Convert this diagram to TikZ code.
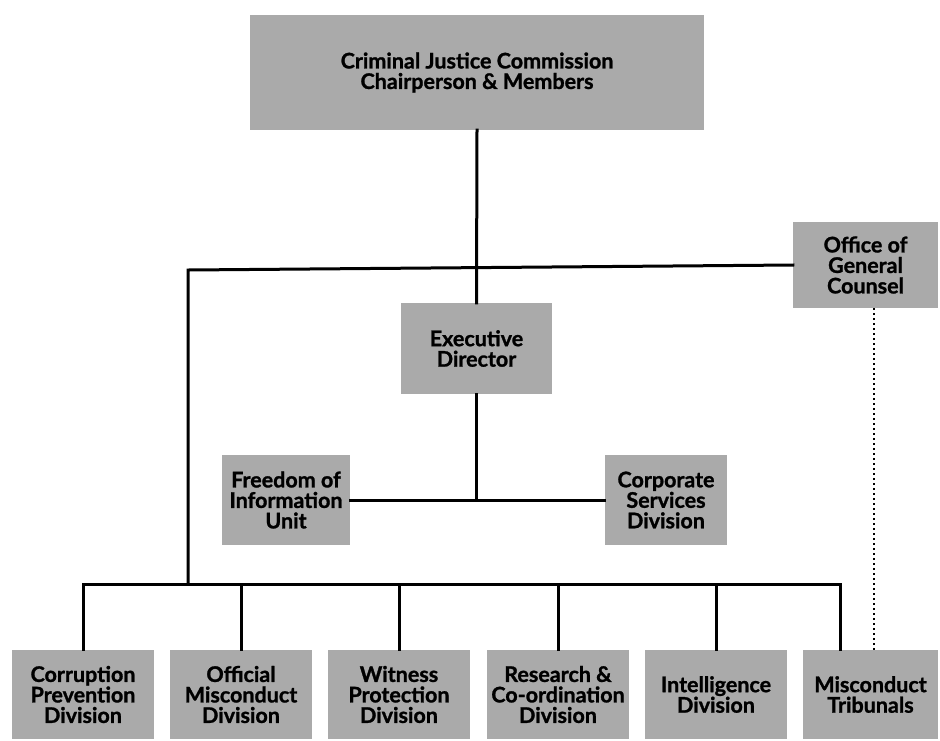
\documentclass[tikz,border=0pt]{standalone}
\usepackage{fontspec}
\setmainfont{Lato}[BoldFeatures={FakeBold=1.2}]
\definecolor{boxgray}{RGB}{170,170,170}
\tikzset{
  box/.style={fill=boxgray, draw=none, align=center, inner sep=2pt,
    font=\fontsize{21.5}{20.5}\selectfont\bfseries},
  conn/.style={line width=3pt, line cap=rect},
  dotconn/.style={line width=2.6pt, line cap=butt, dash pattern=on 1.6pt off 3.4pt}
}
\begin{document}
\begin{tikzpicture}[x=1pt,y=-1pt]
\useasboundingbox (0,0) rectangle (940,740);
% boxes
\node[box, minimum width=454pt, minimum height=115pt] (cjc) at (477,72.5) {Criminal Justice Commission\\Chairperson \& Members};
\node[box, minimum width=145pt, minimum height=86pt] (ogc) at (865.5,265) {Office of\\General\\Counsel};
\node[box, minimum width=151pt, minimum height=91pt] (ed) at (476.5,348.5) {Executive\\Director};
\node[box, minimum width=128pt, minimum height=90pt] (foi) at (286,500) {Freedom of\\Information\\Unit};
\node[box, minimum width=122pt, minimum height=90pt] (csd) at (666,500) {Corporate\\Services\\Division};
\node[box, minimum width=142pt, minimum height=89pt] (cpd) at (83,694.5) {Corruption\\Prevention\\Division};
\node[box, minimum width=142pt, minimum height=89pt] (omd) at (241,694.5) {Official\\Misconduct\\Division};
\node[box, minimum width=142pt, minimum height=89pt] (wpd) at (399,694.5) {Witness\\Protection\\Division};
\node[box, minimum width=142pt, minimum height=89pt] (rcd) at (558,694.5) {Research \&\\Co-ordination\\Division};
\node[box, minimum width=142pt, minimum height=89pt] (intel) at (716,694.5) {Intelligence\\Division};
\node[box, minimum width=135pt, minimum height=89pt] (mt) at (870.5,694.5) {Misconduct\\Tribunals};
% coordinates
\coordinate (tl) at (188,270);
\coordinate (bl) at (188,584);
\coordinate (busL) at (83,584);
\coordinate (busR) at (840,584);
\coordinate (dotx) at (874,400);
% connectors
\draw[conn] (cjc.south) -- (ed.north);
\draw[conn] (ogc.west) -- (tl) -- (bl);
\draw[conn] (foi.east) -- (csd.west);
\draw[conn] (ed.south) -- (ed.south |- foi.east);
\draw[conn] (cpd.north) -- (busL) -- (busR) -- (busR |- mt.north);
\draw[conn] (omd.north) -- (omd.north |- busL);
\draw[conn] (wpd.north) -- (wpd.north |- busL);
\draw[conn] (rcd.north) -- (rcd.north |- busL);
\draw[conn] (intel.north) -- (intel.north |- busL);
\draw[dotconn] (ogc.south -| dotx) -- (mt.north -| dotx);
\end{tikzpicture}
\end{document}
